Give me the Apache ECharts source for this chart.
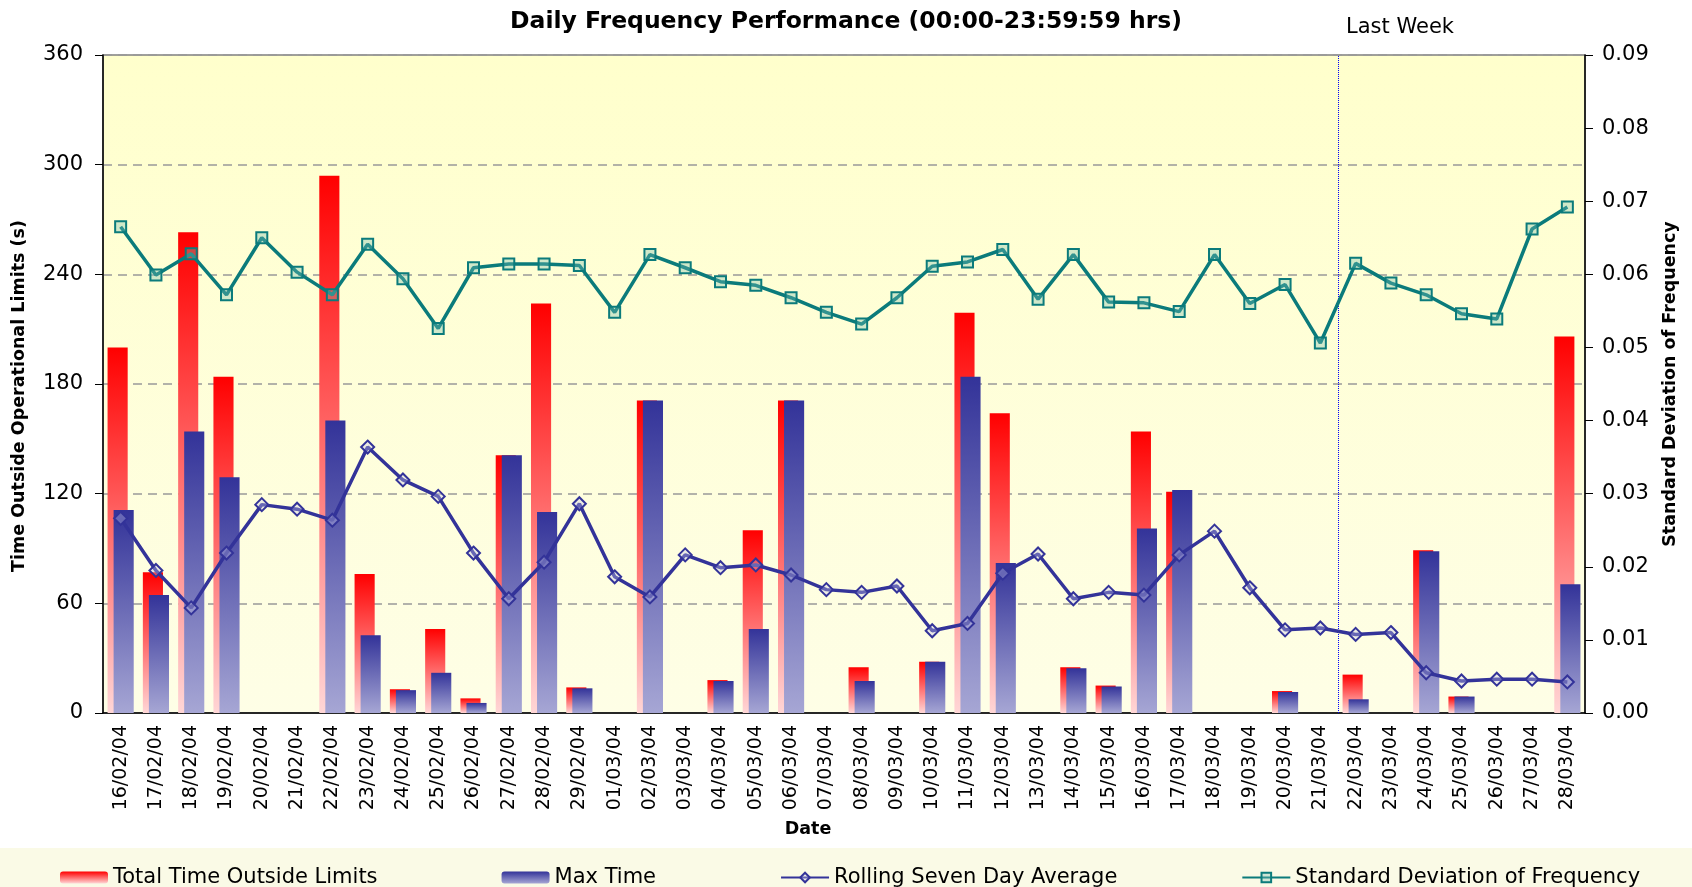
<!DOCTYPE html>
<html>
<head>
<meta charset="utf-8">
<title>Daily Frequency Performance</title>
<script src="https://cdn.jsdelivr.net/npm/echarts@6.0.0/dist/echarts.min.js"></script>
<style>
* { margin: 0; padding: 0; box-sizing: border-box; }
body { background: #fff; overflow: hidden; }
#chart { width: 1692px; height: 887px; }
</style>
</head>
<body>
<div id="chart"></div>
<script>
// data
const dates = [
  '16/02/04', '17/02/04', '18/02/04', '19/02/04', '20/02/04', '21/02/04', '22/02/04',
  '23/02/04', '24/02/04', '25/02/04', '26/02/04', '27/02/04', '28/02/04', '29/02/04',
  '01/03/04', '02/03/04', '03/03/04', '04/03/04', '05/03/04', '06/03/04', '07/03/04',
  '08/03/04', '09/03/04', '10/03/04', '11/03/04', '12/03/04', '13/03/04', '14/03/04',
  '15/03/04', '16/03/04', '17/03/04', '18/03/04', '19/03/04', '20/03/04', '21/03/04',
  '22/03/04', '23/03/04', '24/03/04', '25/03/04', '26/03/04', '27/03/04', '28/03/04'
]
const totalTime = [
  200, 77, 263, 184, 0, 0, 294, 76, 13, 46, 8, 141, 224, 14,
  0, 171, 0, 18, 100, 171, 0, 25, 0, 28, 219, 164, 0, 25,
  15, 154, 121, 0, 0, 12, 0, 21, 0, 89, 9, 0, 0, 206
]
const maxTime = [
  111, 64.5, 154, 129, 0, 0, 160, 42.5, 12.5, 22, 5.5, 141, 110, 13.5,
  0, 171, 0, 17.5, 46, 171, 0, 17.5, 0, 28, 184, 82, 0, 24.5,
  14.5, 101, 122, 0, 0, 11.5, 0, 7.5, 0, 88.5, 9, 0, 0, 70.5
]
const rollingAvg = [
  106.5, 78, 57.5, 87.5, 114, 111.5, 105.5, 145.5, 127.5, 118.5, 87.5, 62.5, 82.5, 114.5,
  74.5, 63.5, 86.5, 79.5, 81, 75.5, 67.5, 66, 69.5, 45, 49, 76.5, 87, 62.5,
  66, 64.5, 86.5, 99.5, 68.5, 45.5, 46.5, 43, 44, 22, 17.5, 18.5, 18.5, 17
]
const stdDev = [
  0.0665, 0.0599, 0.0628, 0.0572, 0.0650, 0.0603, 0.0572, 0.0641, 0.0594, 0.0526, 0.0609, 0.0614, 0.0614, 0.0612,
  0.0548, 0.0627, 0.0609, 0.0590, 0.0585, 0.0568, 0.0548, 0.0532, 0.0568, 0.0611, 0.0617, 0.0634, 0.0566, 0.0627,
  0.0562, 0.0561, 0.0549, 0.0627, 0.0560, 0.0586, 0.0506, 0.0615, 0.0588, 0.0572, 0.0546, 0.0539, 0.0662, 0.0692
]
const lastWeekFrom = '22/03/04'

const FONT = 'DejaVu Sans'
const chart = echarts.init(document.getElementById('chart'))

chart.setOption({
  animation: false,
  backgroundColor: '#fff',
  title: {
    text: 'Daily Frequency Performance (00:00-23:59:59 hrs)',
    left: 'center',
    top: 5,
    textStyle: { fontFamily: FONT, fontSize: 23.5, fontWeight: 'bold', color: '#000' }
  },
  // pale band behind the legend
  graphic: [{
    type: 'rect',
    left: 0,
    bottom: 0,
    z: -1,
    shape: { width: 1692, height: 39 },
    style: { fill: '#fafae6' }
  }],
  legend: {
    data: ['Total Time Outside Limits', 'Max Time', 'Rolling Seven Day Average', 'Standard Deviation of Frequency'],
    left: 55,
    top: 862,
    itemWidth: 48,
    itemHeight: 12,
    itemGap: 124,
    textStyle: { fontFamily: FONT, fontSize: 21, color: '#000' }
  },
  grid: {
    left: 103,
    right: 107,
    top: 55,
    bottom: 174,
    show: true,
    borderColor: '#808080',
    borderWidth: 1.5,
    backgroundColor: new echarts.graphic.LinearGradient(0, 0, 0, 1, [
      { offset: 0, color: '#ffffcc' },
      { offset: 1, color: '#fefee6' }
    ])
  },
  xAxis: [{
    type: 'category',
    data: dates,
    name: 'Date',
    nameLocation: 'middle',
    nameGap: 107,
    nameTextStyle: { fontFamily: FONT, fontSize: 17.5, fontWeight: 'bold', color: '#000', padding: [0, 72, 0, 0] },
    axisLine: { lineStyle: { color: '#000', width: 1.5 } },
    axisTick: { length: 6, lineStyle: { color: '#000' } },
    axisLabel: { interval: 0, rotate: 90, margin: 12, fontFamily: FONT, fontSize: 19, color: '#000' }
  }, {
    // hidden helper axis, one unit per day, for the "Last Week" divider
    type: 'value',
    min: 0,
    max: dates.length,
    show: false
  }],
  yAxis: [{
    type: 'value',
    min: 0,
    max: 360,
    interval: 60,
    name: 'Time Outside Operational Limits (s)',
    nameLocation: 'middle',
    nameRotate: 90,
    nameGap: 75,
    nameTextStyle: { fontFamily: FONT, fontSize: 17.5, fontWeight: 'bold', color: '#000', padding: [0, 24, 0, 0] },
    axisLine: { show: true, lineStyle: { color: '#000', width: 1.5 } },
    axisTick: { show: true, length: 8, lineStyle: { color: '#000' } },
    axisLabel: { margin: 20, fontFamily: FONT, fontSize: 21, color: '#000' },
    splitLine: { lineStyle: { color: '#999', type: [9, 6], width: 1.5 } }
  }, {
    type: 'value',
    min: 0,
    max: 0.09,
    interval: 0.01,
    name: 'Standard Deviation of Frequency',
    nameLocation: 'middle',
    nameRotate: 90,
    nameGap: 76,
    nameTextStyle: { fontFamily: FONT, fontSize: 17.5, fontWeight: 'bold', color: '#000' },
    axisLine: { show: true, lineStyle: { color: '#000', width: 1.5 } },
    axisTick: { show: true, length: 8, lineStyle: { color: '#000' } },
    axisLabel: { margin: 17, fontFamily: FONT, fontSize: 21, color: '#000', formatter: v => v.toFixed(2) },
    splitLine: { show: false }
  }],
  series: [{
    name: 'Total Time Outside Limits',
    type: 'bar',
    data: totalTime,
    barWidth: '57%',
    barGap: '-70%',
    itemStyle: {
      color: new echarts.graphic.LinearGradient(0, 0, 0, 1, [
        { offset: 0, color: '#ff0000' },
        { offset: 1, color: '#ffd6d6' }
      ])
    }
  }, {
    name: 'Max Time',
    type: 'bar',
    data: maxTime,
    barWidth: '57%',
    barGap: '-70%',
    itemStyle: {
      color: new echarts.graphic.LinearGradient(0, 0, 0, 1, [
        { offset: 0, color: '#333399' },
        { offset: 1, color: '#a6a6d4' }
      ])
    }
  }, {
    name: 'Rolling Seven Day Average',
    type: 'line',
    data: rollingAvg,
    symbol: 'diamond',
    symbolSize: 13,
    lineStyle: { color: '#333399', width: 3.5 },
    itemStyle: { color: 'rgba(200,200,235,0.35)', borderColor: '#333399', borderWidth: 2 },
    z: 5
  }, {
    name: 'Standard Deviation of Frequency',
    type: 'line',
    yAxisIndex: 1,
    data: stdDev,
    symbol: 'rect',
    symbolSize: 11,
    lineStyle: { color: '#0b7b7b', width: 3.5 },
    itemStyle: { color: 'rgba(120,190,180,0.35)', borderColor: '#0b7b7b', borderWidth: 2 },
    z: 6
  }, {
    name: 'divider',
    type: 'line',
    xAxisIndex: 1,
    data: [],
    markLine: {
      silent: true,
      symbol: 'none',
      lineStyle: { color: '#0000ff', type: 'dotted', width: 1 },
      label: {
        show: true,
        position: 'end',
        formatter: 'Last Week',
        fontFamily: FONT,
        fontSize: 21,
        color: '#000',
        offset: [62, -12]
      },
      data: [{ xAxis: dates.indexOf(lastWeekFrom) }]
    }
  }]
})
</script>
</body>
</html>
